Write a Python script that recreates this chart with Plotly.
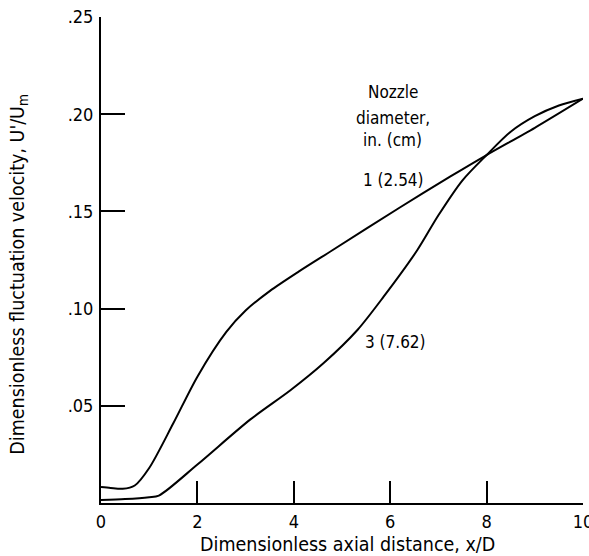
import plotly.graph_objects as go

# Nozzle 1 in. (2.54 cm)
x_n1 = [0, 0.2, 0.45, 0.7, 1.0, 1.5, 2.0, 2.6, 3.0, 3.5, 4.1, 4.8, 6.2, 7.25, 8.0, 9.0, 10.0]
y_n1 = [0.0082, 0.0077, 0.0073, 0.0090, 0.018, 0.041, 0.065, 0.088, 0.099, 0.109, 0.119, 0.130, 0.152, 0.168, 0.179, 0.193, 0.208]

# Nozzle 3 in. (7.62 cm)
x_n3 = [0, 0.5, 1.0, 1.2, 2.0, 3.1, 3.93, 4.62, 5.32, 5.86, 6.56, 7.0, 7.5, 8.0, 8.5, 9.0, 9.5, 10.0]
y_n3 = [0.0015, 0.002, 0.003, 0.0038, 0.0198, 0.043, 0.058, 0.072, 0.089, 0.106, 0.130, 0.148, 0.166, 0.179, 0.191, 0.199, 0.2045, 0.208]

x_tickvals = [0, 2, 4, 6, 8, 10]
x_ticktext = ["0", "2", "4", "6", "8", "10"]
y_tickvals = [0.05, 0.10, 0.15, 0.20, 0.25]
y_ticktext = [".05", ".10", ".15", ".20", ".25"]

FONT = "DejaVu Sans Condensed, Liberation Sans Narrow, Arial Narrow, sans-serif"

fig = go.Figure()
fig.add_trace(go.Scatter(x=x_n1, y=y_n1, mode="lines",
                         line=dict(color="black", width=2, shape="spline", smoothing=0.8),
                         showlegend=False, hoverinfo="skip"))
fig.add_trace(go.Scatter(x=x_n3, y=y_n3, mode="lines",
                         line=dict(color="black", width=2, shape="spline", smoothing=0.8),
                         showlegend=False, hoverinfo="skip"))

labels = [
    ("Nozzle", 6.06, 0.2114),
    ("diameter,", 6.06, 0.198),
    ("in. (cm)", 6.04, 0.1867),
    ("1 (2.54)", 6.06, 0.166),
    ("3 (7.62)", 6.1, 0.0828),
]
for t, xx, yy in labels:
    fig.add_annotation(x=xx, y=yy, xref="x", yref="y", text=t, showarrow=False,
                       font=dict(family=FONT, size=17, color="black"),
                       xanchor="center", yanchor="middle")

fig.add_annotation(xref="paper", yref="paper", x=-0.172, y=0.47,
                   text="Dimensionless fluctuation velocity, U'/U<sub>m</sub>",
                   textangle=-90, showarrow=False,
                   font=dict(family=FONT, size=19.5, color="black"),
                   xanchor="center", yanchor="middle")
fig.add_annotation(xref="paper", yref="paper", x=0.512, y=-0.086,
                   text="Dimensionless axial distance, x/D", showarrow=False,
                   font=dict(family=FONT, size=19.5, color="black"),
                   xanchor="center", yanchor="middle")

fig.update_xaxes(range=[0, 10], tickvals=x_tickvals, ticktext=x_ticktext,
                 ticks="inside", ticklen=22, tickwidth=2, tickcolor="black",
                 showline=True, linecolor="black", linewidth=2,
                 showgrid=False, zeroline=False, ticklabelstandoff=1,
                 automargin=False, ticklabeloverflow="allow",
                 tickfont=dict(family=FONT, size=18, color="black"))
fig.update_yaxes(range=[0, 0.25], tickvals=y_tickvals, ticktext=y_ticktext,
                 ticks="inside", ticklen=24, tickwidth=2, tickcolor="black",
                 showline=True, linecolor="black", linewidth=2,
                 showgrid=False, zeroline=False, ticklabelstandoff=2,
                 automargin=False, ticklabeloverflow="allow",
                 tickfont=dict(family=FONT, size=18, color="black"))

fig.update_layout(width=589, height=556,
                  margin=dict(l=101, r=6, t=17, b=53),
                  plot_bgcolor="white", paper_bgcolor="white")

fig.write_html("out.html", config={"displayModeBar": False},
               post_script="document.body.style.margin='0';document.body.style.overflow='hidden';")
